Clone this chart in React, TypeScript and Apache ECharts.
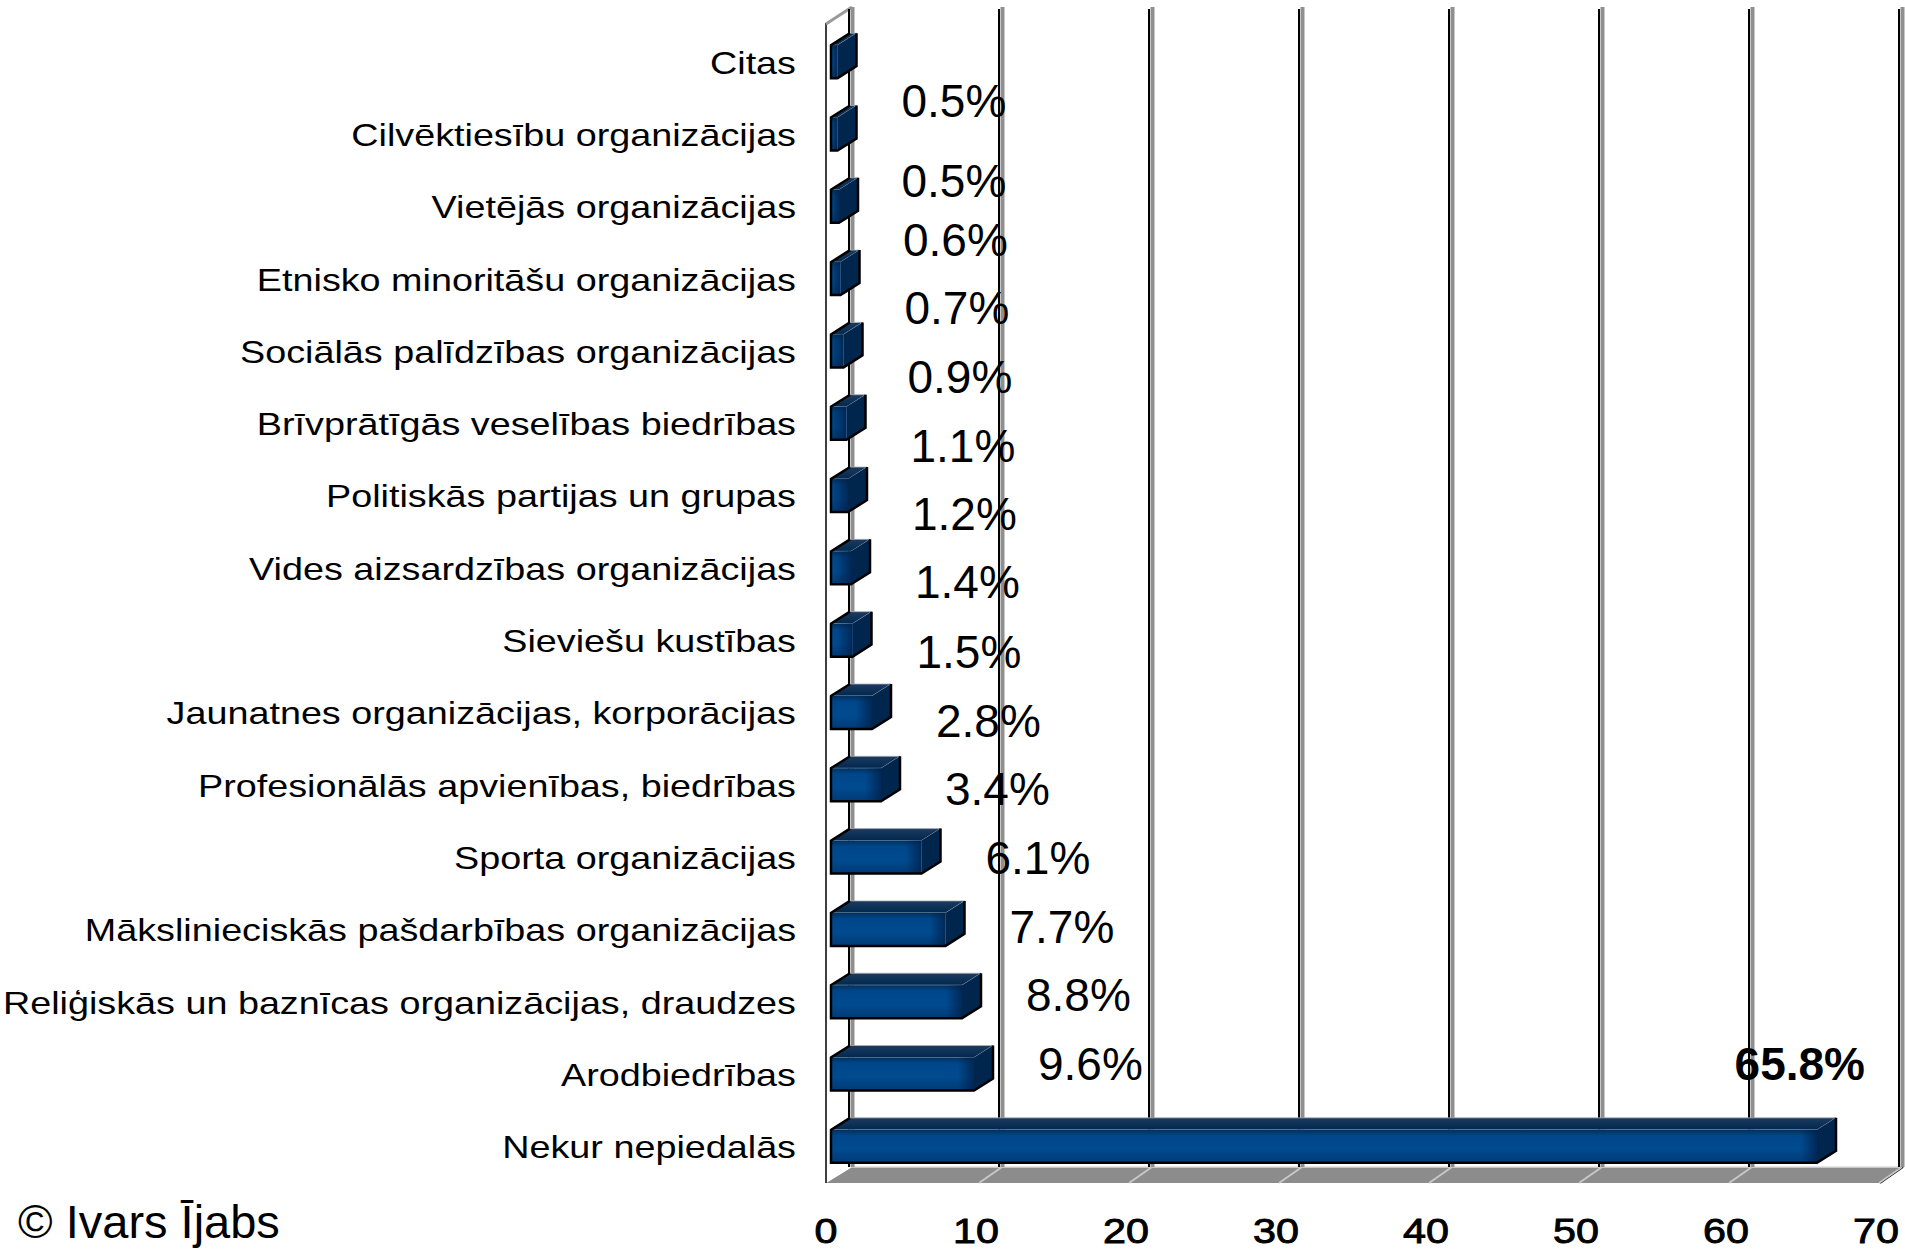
import React, { useEffect, useRef } from "react";
import * as echarts from "echarts";

const CATEGORIES = [
  "Citas",
  "Cilvēktiesību organizācijas",
  "Vietējās organizācijas",
  "Etnisko minoritāšu organizācijas",
  "Sociālās palīdzības organizācijas",
  "Brīvprātīgās veselības biedrības",
  "Politiskās partijas un grupas",
  "Vides aizsardzības organizācijas",
  "Sieviešu kustības",
  "Jaunatnes organizācijas, korporācijas",
  "Profesionālās apvienības, biedrības",
  "Sporta organizācijas",
  "Mākslinieciskās pašdarbības organizācijas",
  "Reliģiskās un baznīcas organizācijas, draudzes",
  "Arodbiedrības",
  "Nekur nepiedalās",
];

const VALUES = [0.5, 0.5, 0.6, 0.7, 0.9, 1.1, 1.2, 1.4, 1.5, 2.8, 3.4, 6.1, 7.7, 8.8, 9.6, 65.8];

const X_TICKS = [0, 10, 20, 30, 40, 50, 60, 70];

// layout only: vertical nudge of each value label relative to its row (px)
const LABEL_DY = [40, 48, 34, 30, 27, 23, 19, 15, 12, 9, 5, 1, -2, -6, -10, -82];

const FONT = "'Liberation Sans', Arial, sans-serif";

export default function App() {
  const ref = useRef<HTMLDivElement>(null);

  useEffect(() => {
    if (!ref.current) return;
    const chart = echarts.init(ref.current, null, { renderer: "svg" });
    const maxIdx = VALUES.indexOf(Math.max(...VALUES));

    const DEPTH_X = 26;
    const DEPTH_Y = -16;

    const wallsRender = (params: any, api: any) => {
      const cs = params.coordSys;
      const T = cs.y;
      const B = cs.y + cs.height;
      const L = api.coord([X_TICKS[0], 0])[0];
      const R = api.coord([X_TICKS[X_TICKS.length - 1], 0])[0];
      const children: any[] = [];
      // floor
      children.push({
        type: "polygon",
        shape: {
          points: [
            [L, B + 1],
            [R + 4, B + 1],
            [R + 4 + DEPTH_X - 3, B + 1 + DEPTH_Y],
            [L + DEPTH_X, B + 1 + DEPTH_Y],
          ],
        },
        style: { fill: "#8c8c8c" },
      });
      children.push({
        type: "line",
        shape: { x1: L + DEPTH_X, y1: B + 1 + DEPTH_Y, x2: R + 27, y2: B + 1 + DEPTH_Y },
        style: { stroke: "#dcdcdc", lineWidth: 1.5 },
      });
      children.push({
        type: "line",
        shape: { x1: R + 4, y1: B + 1, x2: R + 27, y2: B + 1 + DEPTH_Y },
        style: { stroke: "#000", lineWidth: 2 },
      });
      X_TICKS.forEach((t, i) => {
        const x = api.coord([t, 0])[0];
        if (i > 0) {
          children.push({
            type: "line",
            shape: { x1: x + 3, y1: B + 1, x2: x + DEPTH_X, y2: B + 1 + DEPTH_Y },
            style: { stroke: "#c8c8c8", lineWidth: 2 },
          });
        }
        // x tick label (slightly stretched and heavy like the original)
        children.push({
          type: "text",
          x: x,
          y: B + 49,
          scaleX: 1.18,
          style: {
            text: String(t),
            fontSize: 35,
            fontFamily: FONT,
            fill: "#000",
            stroke: "#000",
            lineWidth: 0.9,
            align: "center",
            verticalAlign: "middle",
          },
        });
      });
      // left wall
      children.push({
        type: "polygon",
        shape: {
          points: [
            [L, T],
            [L + DEPTH_X, T + DEPTH_Y],
            [L + DEPTH_X, B + 1 + DEPTH_Y],
            [L, B + 1],
          ],
        },
        style: { fill: "#ffffff" },
      });
      children.push({
        type: "line",
        shape: { x1: L, y1: T - 2, x2: L, y2: B + 1 },
        style: { stroke: "#000", lineWidth: 1.5 },
      });
      children.push({
        type: "polyline",
        shape: { points: [[L, T - 1], [L + DEPTH_X, T + DEPTH_Y - 2]] },
        style: { stroke: "#9a9a9a", lineWidth: 3, fill: null },
      });
      // back wall gridlines
      X_TICKS.forEach((t) => {
        const x = api.coord([t, 0])[0] + DEPTH_X;
        children.push({
          type: "line",
          shape: { x1: x - 3, y1: T + DEPTH_Y, x2: x - 3, y2: B + 1 + DEPTH_Y },
          style: { stroke: "#000", lineWidth: 2 },
        });
        children.push({
          type: "line",
          shape: { x1: x + 0.5, y1: T + DEPTH_Y - 2, x2: x + 0.5, y2: B + 1 + DEPTH_Y },
          style: { stroke: "#8f8f8f", lineWidth: 4 },
        });
      });
      return { type: "group", children };
    };

    const barsRender = (params: any, api: any) => {
      const v = api.value(0);
      const idx = api.value(1);
      const [xa, cy] = api.coord([0, idx]);
      const xb = api.coord([v, idx])[0];
      const x0 = xa + 5;
      const x1 = xb + 4;
      const top = cy - 16;
      const bot = cy + 17;
      const DX = 19;
      const DY = -12;
      const children: any[] = [];
      // top face
      children.push({
        type: "polygon",
        shape: { points: [[x0, top], [x1, top], [x1 + DX, top + DY], [x0 + DX, top + DY]] },
        style: {
          fill: new echarts.graphic.LinearGradient(0, 0, 0, 1, [
            { offset: 0, color: "#1d3a5e" },
            { offset: 1, color: "#00284f" },
          ]),
          stroke: "#a8b0bb",
          lineWidth: 0.8,
        },
      });
      // right face
      children.push({
        type: "polygon",
        shape: { points: [[x1, top], [x1 + DX, top + DY], [x1 + DX, bot + DY], [x1, bot]] },
        style: { fill: "#00264e" },
      });
      // front face
      children.push({
        type: "rect",
        shape: { x: x0, y: top, width: Math.max(x1 - x0, 0.5), height: bot - top },
        style: {
          fill: new echarts.graphic.LinearGradient(0, 0, 0, 1, [
            { offset: 0, color: "#00305f" },
            { offset: 0.18, color: "#00478a" },
            { offset: 0.6, color: "#004a8f" },
            { offset: 1, color: "#003a74" },
          ]),
        },
      });
      const shade = Math.min(16, Math.max(x1 - x0, 0));
      children.push({
        type: "rect",
        shape: { x: x1 - shade, y: top, width: shade, height: bot - top },
        style: {
          fill: new echarts.graphic.LinearGradient(0, 0, 1, 0, [
            { offset: 0, color: "rgba(0,30,70,0)" },
            { offset: 1, color: "rgba(0,30,70,0.75)" },
          ]),
        },
      });
      // dark edges
      children.push({
        type: "polyline",
        shape: { points: [[x0 + DX, top + DY], [x0, top], [x0, bot], [x1, bot], [x1 + DX, bot + DY], [x1 + DX, top + DY]] },
        style: { stroke: "#000", lineWidth: 2.5, fill: null },
      });
      // value label
      const isMax = idx === maxIdx;
      const txt = v.toFixed(1) + "%";
      children.push({
        type: "text",
        x: isMax ? xb + 52 : xb + 68,
        y: cy + LABEL_DY[idx],
        style: {
          text: txt,
          fontSize: 46,
          fontWeight: isMax ? "bold" : "normal",
          fontFamily: FONT,
          fill: "#000",
          align: isMax ? "right" : "left",
          verticalAlign: "middle",
        },
      });
      return { type: "group", children };
    };

    // category labels, drawn with a slight horizontal stretch like the original
    const catLabelRender = (params: any, api: any) => {
      const idx = api.value(1);
      const [xa, cy] = api.coord([0, idx]);
      return {
        type: "text",
        x: xa - 30,
        y: cy + 1,
        scaleX: 1.18,
        style: {
          text: CATEGORIES[idx],
          fontSize: 32,
          fontFamily: FONT,
          fill: "#000",
          align: "right",
          verticalAlign: "middle",
        },
      };
    };

    chart.setOption({
      animation: false,
      backgroundColor: "#ffffff",
      grid: { left: 826, top: 25, width: 1050, height: 1157, containLabel: false },
      xAxis: {
        type: "value",
        min: X_TICKS[0],
        max: X_TICKS[X_TICKS.length - 1],
        interval: X_TICKS[1] - X_TICKS[0],
        axisLine: { show: false },
        axisTick: { show: false },
        splitLine: { show: false },
        axisLabel: { show: false },
      },
      yAxis: {
        type: "category",
        data: CATEGORIES,
        inverse: true,
        axisLine: { show: false },
        axisTick: { show: false },
        splitLine: { show: false },
        axisLabel: { show: false },
      },
      graphic: [
        {
          type: "text",
          x: 18,
          y: 1221,
          style: {
            text: "© Ivars Ījabs",
            fontSize: 47,
            fontFamily: FONT,
            fill: "#000",
            verticalAlign: "middle",
          },
        },
      ],
      series: [
        {
          type: "custom",
          name: "walls",
          z: 1,
          silent: true,
          data: [[0, 0]],
          renderItem: wallsRender,
        },
        {
          type: "custom",
          name: "bars",
          z: 2,
          data: VALUES.map((v, i) => [v, i]),
          encode: { x: 0, y: 1 },
          renderItem: barsRender,
        },
        {
          type: "custom",
          name: "categories",
          z: 2,
          silent: true,
          data: CATEGORIES.map((c, i) => [0, i]),
          encode: { x: 0, y: 1 },
          renderItem: catLabelRender,
        },
      ],
    });

    return () => chart.dispose();
  }, []);

  return (
    <div
      ref={ref}
      style={{ position: "fixed", left: 0, top: 0, width: 1905, height: 1253 }}
    />
  );
}
